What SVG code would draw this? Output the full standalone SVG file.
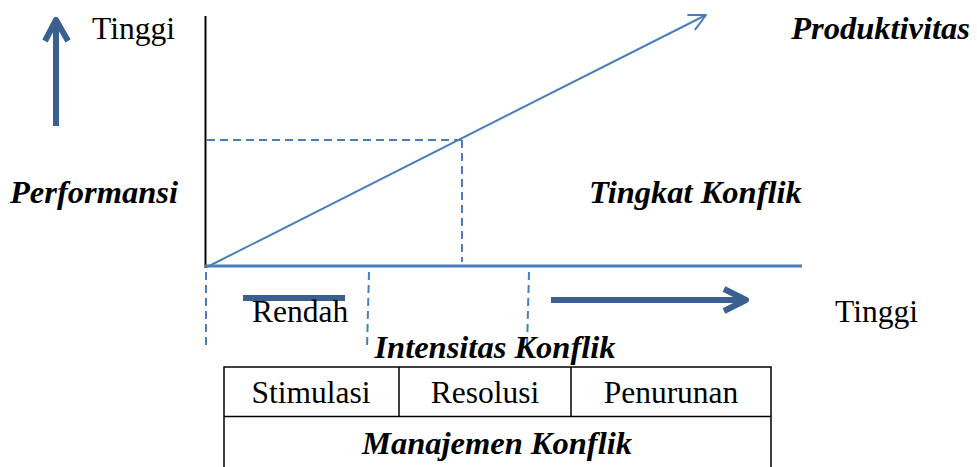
<svg xmlns="http://www.w3.org/2000/svg" width="977" height="467" viewBox="0 0 977 467">
<defs>
<style>
.t{font-family:"Liberation Serif","Times New Roman",serif;font-size:31.5px;fill:#000}
.b{font-weight:bold;font-style:italic;font-size:32.5px}
.blue{stroke:#4a7ebb;fill:none}
.dash{stroke:#4a7ebb;stroke-width:2;stroke-dasharray:8 5;fill:none}
.big{stroke:#3b5f8e;stroke-width:6;fill:none;stroke-linecap:butt;stroke-linejoin:round}
.cell{stroke:#000;stroke-width:1.5;fill:none}
</style>
<marker id="open" viewBox="0 0 20 20" refX="18" refY="10" markerWidth="20" markerHeight="20" markerUnits="userSpaceOnUse" orient="auto">
<path d="M2,2 L18,10 L2,18" fill="none" stroke="#4a7ebb" stroke-width="2" stroke-linecap="round" stroke-linejoin="round"/>
</marker>
</defs>
<g id="connectors">
<line x1="205.5" y1="16" x2="205.5" y2="268" stroke="#000" stroke-width="2"/>
<line class="blue" x1="205" y1="266" x2="802" y2="266" stroke-width="3"/>
<line class="blue" x1="207" y1="267" x2="706" y2="15" stroke-width="2" marker-end="url(#open)"/>
<line class="dash" x1="207" y1="140" x2="462" y2="140"/>
<line class="dash" x1="462" y1="140" x2="462" y2="262"/>
<line class="dash" x1="206" y1="272" x2="206" y2="348"/>
<line class="dash" x1="369" y1="272" x2="367" y2="348"/>
<line class="dash" x1="529" y1="272" x2="527" y2="347"/>
<line class="big" x1="56" y1="126" x2="56" y2="21"/>
<polyline class="big" points="45,41 56,20 68,41" stroke-linecap="round"/>
<line class="big" x1="243" y1="298" x2="345" y2="298"/>
<line class="big" x1="551" y1="300" x2="745" y2="300"/>
<polyline class="big" points="724,289 746,300 724,311" stroke-linecap="round"/>
</g>
<g id="labels">
<text class="t" x="92" y="39">Tinggi</text>
<text class="t b" x="970" y="39" text-anchor="end">Produktivitas</text>
<text class="t b" x="10" y="203">Performansi</text>
<text class="t b" x="589" y="203">Tingkat Konflik</text>
<text class="t" x="252" y="322">Rendah</text>
<text class="t" x="835" y="322">Tinggi</text>
<text class="t b" x="495" y="358" text-anchor="middle">Intensitas Konflik</text>
</g>
<g id="table">
<rect class="cell" x="224" y="367" width="547" height="110"/>
<line class="cell" x1="224" y1="416.5" x2="771" y2="416.5"/>
<line class="cell" x1="399" y1="367" x2="399" y2="416.5"/>
<line class="cell" x1="571" y1="367" x2="571" y2="416.5"/>
<g id="stimulasi"><text class="t" x="311" y="403" text-anchor="middle">Stimulasi</text></g>
<g id="resolusi"><text class="t" x="485" y="403" text-anchor="middle">Resolusi</text></g>
<g id="penurunan"><text class="t" x="671" y="403" text-anchor="middle">Penurunan</text></g>
<g id="manajemen"><text class="t b" x="497" y="454" text-anchor="middle">Manajemen Konflik</text></g>
</g>
</svg>
